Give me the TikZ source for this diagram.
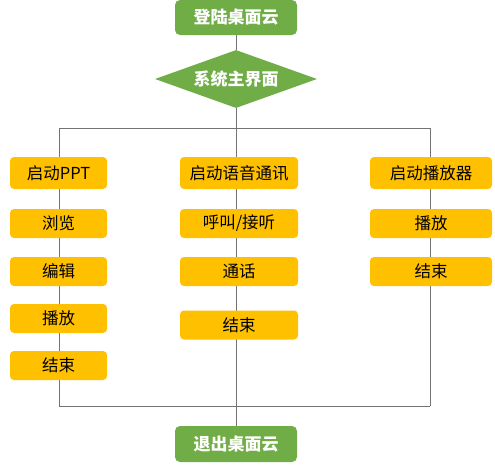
\documentclass[tikz,border=0pt]{standalone}
\usepackage{fontspec}
\setmainfont{Noto Sans CJK SC}
\usetikzlibrary{shapes.geometric, backgrounds}
\definecolor{gold}{HTML}{FFC000}
\definecolor{leaf}{HTML}{70AD47}

\begin{document}
\begin{tikzpicture}[
    x=1pt, y=-1pt,
    item/.style={fill=gold, rounded corners=4pt, minimum height=29pt,
                 inner sep=0pt, font=\fontsize{16.5}{19}\selectfont},
    head/.style={item, minimum height=32pt},
    term/.style={fill=leaf, rounded corners=5pt, minimum width=122pt,
                 minimum height=35pt, inner sep=0pt, text=white,
                 font=\fontsize{17}{20}\selectfont\bfseries},
    dia/.style={diamond, fill=leaf, minimum width=162pt, minimum height=58pt,
                aspect=2.8, inner sep=0pt, text=white,
                font=\fontsize{17}{20}\selectfont\bfseries},
    link/.style={draw=black!55, line width=0.8pt},
]
\useasboundingbox (0,0) rectangle (495,467);
% --- login and main menu ------------------------------------------------------
\node[term] (login) at (236,17.5) {登陆桌面云};
\node[dia]  (menu)  at (236,79)   {系统主界面};
\coordinate (hl) at (59,128);
\coordinate (hc) at (236,128);
\coordinate (hr) at (430,128);
\coordinate (bl) at (59,406);
\coordinate (bc) at (236,406);
\coordinate (br) at (430,406);
% --- PPT ------------------------------------------------------------------------
\node[head, minimum width=97pt] (ppt)   at (58.5,173)   {启动PPT};
\node[item, minimum width=97pt] (view)  at (58.5,223.5) {浏览};
\node[item, minimum width=97pt] (edit)  at (58.5,271.5) {编辑};
\node[item, minimum width=97pt] (show)  at (58.5,318.5) {播放};
\node[item, minimum width=97pt] (pend)  at (58.5,365.5) {结束};
% --- voice call -----------------------------------------------------------------
\node[head, minimum width=118pt] (voice) at (239,173)   {启动语音通讯};
\node[item, minimum width=118pt] (call)  at (239,223.5) {呼叫/接听};
\node[item, minimum width=118pt] (talk)  at (239,271.5) {通话};
\node[item, minimum width=118pt] (vend)  at (239,325)   {结束};
% --- player ---------------------------------------------------------------------
\node[head, minimum width=122pt] (player) at (431,173)   {启动播放器};
\node[item, minimum width=122pt] (play)   at (431,223.5) {播放};
\node[item, minimum width=122pt] (mend)   at (431,271.5) {结束};
% --- logout ---------------------------------------------------------------------
\node[term, minimum height=36pt] (logout) at (236,444) {退出桌面云};
\begin{scope}[on background layer]
  \draw[link] (login) -- (menu);
  \draw[link] (menu) -- (hc);
  \draw[link] (hl) -- (hr);
  \draw[link] (hl) -- (bl);
  \draw[link] (hc) -- (bc);
  \draw[link] (hr) -- (br);
  \draw[link] (bl) -- (br);
  \draw[link] (bc) -- (logout);
\end{scope}
\end{tikzpicture}
\end{document}
